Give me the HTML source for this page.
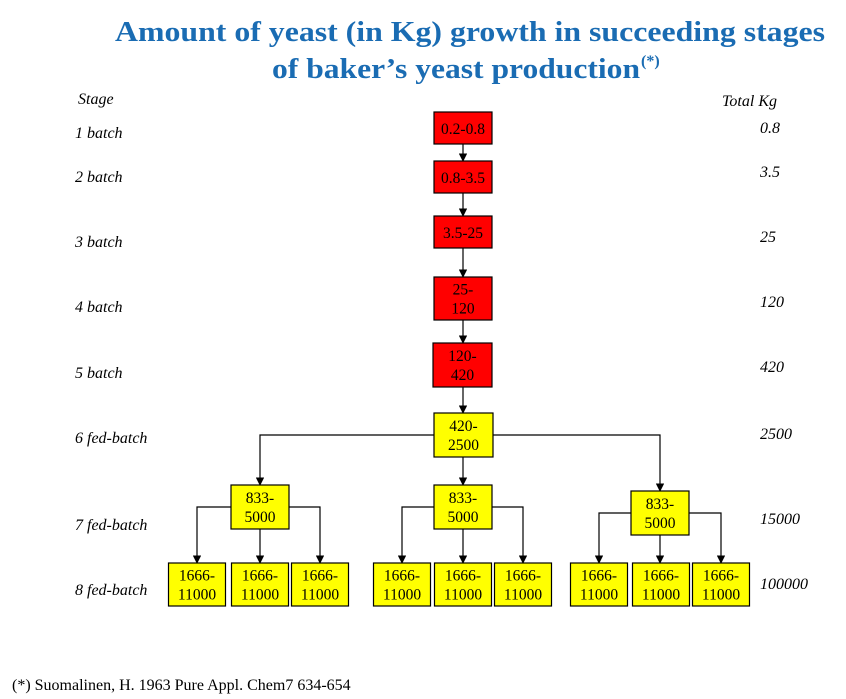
<!DOCTYPE html>
<html><head><meta charset="utf-8"><style>
html,body{margin:0;padding:0;background:#fff;width:846px;height:699px;overflow:hidden}
svg text{font-family:"Liberation Serif",serif}
.lbl{font-style:italic;font-size:16px;fill:#000}
.bx{font-size:15.5px;fill:#000;text-anchor:middle}
</style></head><body>
<svg width="846" height="699" viewBox="0 0 846 699">
<defs><marker id="ar" viewBox="0 0 10 10" refX="9" refY="5" markerWidth="7" markerHeight="7" orient="auto"><path d="M0,0L10,5L0,10z" fill="#000"/></marker></defs>
<text x="470" y="41" text-anchor="middle" font-size="28" font-weight="bold" fill="#1a6cb3" textLength="710" lengthAdjust="spacingAndGlyphs">Amount of yeast (in Kg) growth in succeeding stages</text>
<text x="272" y="78" font-size="28" font-weight="bold" fill="#1a6cb3" textLength="368" lengthAdjust="spacingAndGlyphs">of baker’s yeast production</text>
<text x="641" y="66" font-size="16" font-weight="bold" fill="#1a6cb3">(*)</text>
<text x="78" y="104" class="lbl">Stage</text>
<text x="722" y="106" class="lbl">Total Kg</text>
<g id="stages"></g>
<g id="totals"></g>
<g id="lines" stroke="#000" stroke-width="1.2" fill="none"></g>
<g id="boxes"></g>
<text x="12" y="690" font-size="16" fill="#000">(*) Suomalinen, H. 1963 Pure Appl. Chem7 634-654</text>
</svg>
<script>
const stageNames=["1 batch","2 batch","3 batch","4 batch","5 batch","6 fed-batch","7 fed-batch","8 fed-batch"];
const stageY=[138,182,247,312,378,443,530,595];
const totals=["0.8","3.5","25","120","420","2500","15000","100000"];
const totalY=[133,177,242,307,372,439,524,589];
const NS="http://www.w3.org/2000/svg";
function mk(t,a,p){const e=document.createElementNS(NS,t);for(const k in a)e.setAttribute(k,a[k]);p.appendChild(e);return e;}
const sg=document.getElementById('stages'),tg=document.getElementById('totals');
stageNames.forEach((s,i)=>{const e=mk('text',{x:75,y:stageY[i],class:'lbl'},sg);


e.textContent=s;});
totals.forEach((s,i)=>{const e=mk('text',{x:760,y:totalY[i],class:'lbl'},tg);


e.textContent=s;});
const bg=document.getElementById('boxes'),lg=document.getElementById('lines');
function box(x,y,w,h,col,l1,l2){const g=mk('g',{},bg);


mk('rect',{x:x,y:y,width:w,height:h,fill:col,stroke:'#000','stroke-width':1.2},g);
if(l2){const a=mk('text',{x:x+w/2,y:y+h/2-4,class:'bx'},g);a.textContent=l1;const b=mk('text',{x:x+w/2,y:y+h/2+15,class:'bx'},g);b.textContent=l2;}
else{const a=mk('text',{x:x+w/2,y:y+h/2+6,class:'bx'},g);a.textContent=l1;}}
function line(pts,arrow){const e=mk('polyline',{points:pts.map(p=>p.join(',')).join(' ')},lg);if(arrow)e.setAttribute('marker-end','url(#ar)');}
const R='#ff0000',Y='#ffff00';
// red chain
box(434,112,58,32,R,'0.2-0.8');box(434,161,58,32,R,'0.8-3.5');box(434,216,58,32,R,'3.5-25');
box(434,277,58,43,R,'25-','120');box(433,343,59,44,R,'120-','420');
line([[463,144],[463,161]],1);line([[463,193],[463,216]],1);line([[463,248],[463,277]],1);line([[463,320],[463,343]],1);line([[463,387],[463,413]],1);
box(434,413,59,44,Y,'420-','2500');
line([[434,435],[260,435],[260,485]],1);line([[493,435],[660,435],[660,491]],1);line([[463,457],[463,485]],1);
const mids=[[231,485,[197,260,320]],[434,485,[402,463,523]],[631,491,[599,661,721]]];
mids.forEach(([x,y,ch])=>{box(x,y,58,44,Y,'833-','5000');const cy=y+22,cx=x+29;
line([[x,cy],[ch[0],cy],[ch[0],563]],1);line([[cx,y+44],[cx,563]],1);line([[x+58,cy],[ch[2],cy],[ch[2],563]],1);
ch.forEach(c=>box(c-28.5,563,57,43,Y,'1666-','11000'));});
</script>
</body></html>
